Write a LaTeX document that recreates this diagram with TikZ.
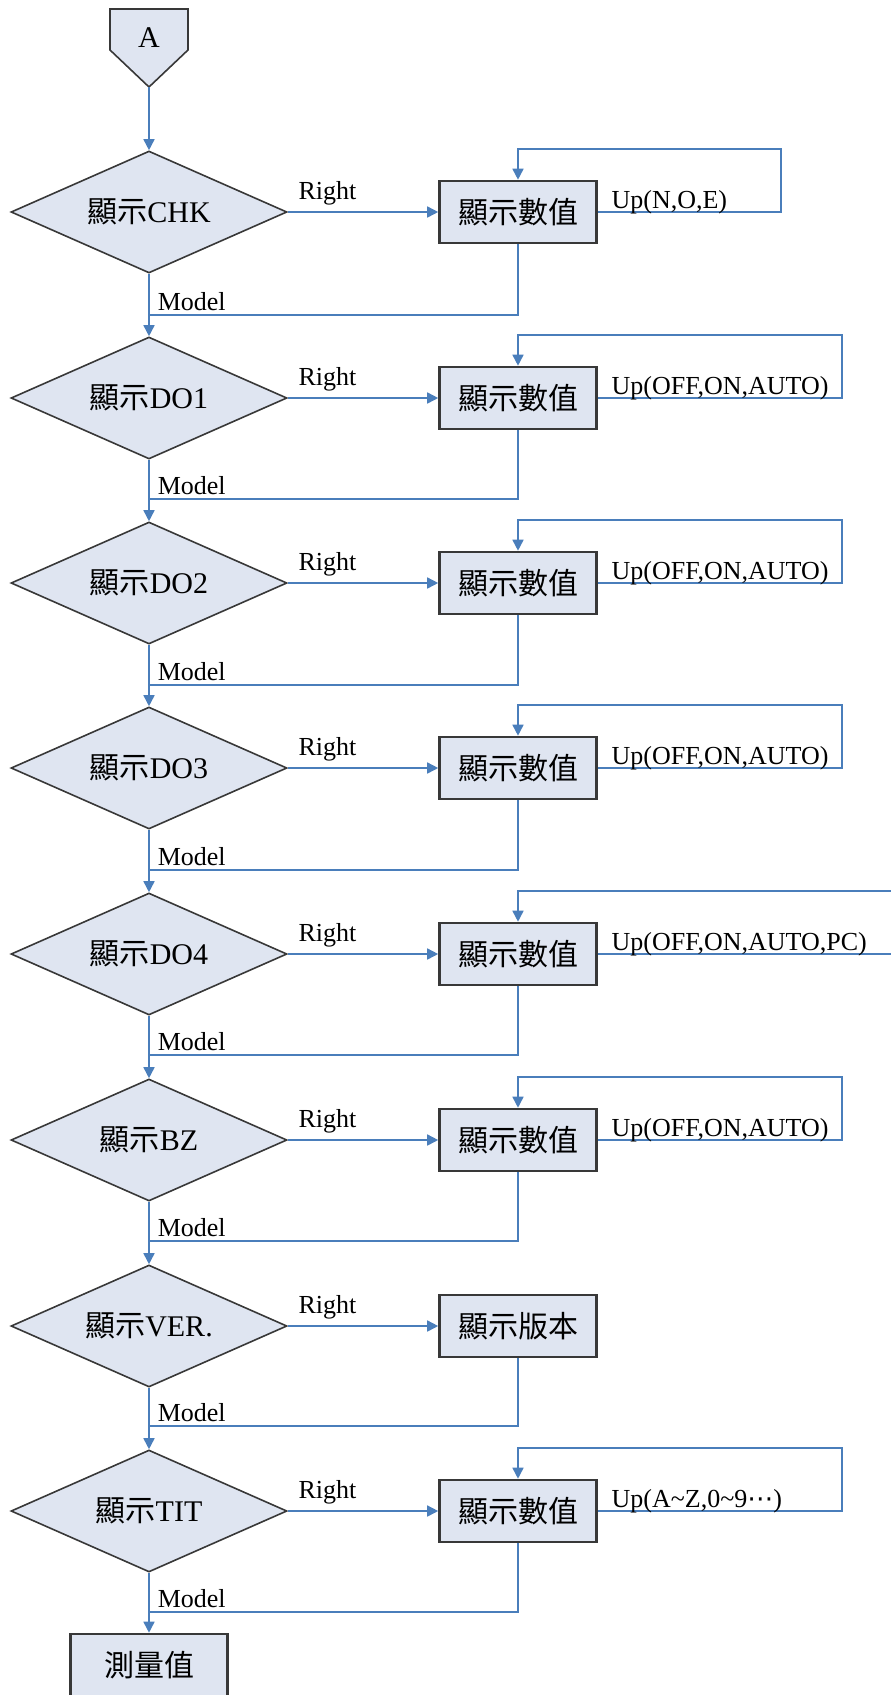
\documentclass[tikz,border=0pt]{standalone}
\usepackage{fontspec}
\setmainfont{Liberation Serif}
\newfontfamily\cjk{Noto Sans CJK TC}
\newfontfamily\symb{DejaVu Sans}
\usetikzlibrary{shapes.geometric,arrows.meta}
\definecolor{linkblue}{HTML}{4A7EBB}
\definecolor{shapefill}{HTML}{DFE5F1}
\definecolor{shapeline}{HTML}{383838}

\begin{document}
\begin{tikzpicture}[x=1pt, y=-1pt,
    >={Triangle[length=11pt, width=11pt]},
    decision/.style = {diamond, draw=shapeline, fill=shapefill, line width=1.6pt,
      minimum width=276pt, minimum height=122pt, aspect=2.26, inner sep=0pt,
      text=black, font=\fontsize{30}{34}\selectfont},
    valuebox/.style = {rectangle, draw=shapeline, fill=shapefill, line width=2.6pt,
      minimum width=157pt, minimum height=62pt, text=black,
      font=\fontsize{30}{34}\selectfont},
    wire/.style = {linkblue, line width=1.6pt},
    rlbl/.style = {pos=0, anchor=base west, inner sep=0pt, xshift=10pt, yshift=13pt,
      text=black, font=\fontsize{26}{30}\selectfont},
    ulbl/.style = {pos=0, anchor=base west, inner sep=0pt, xshift=13pt, yshift=4pt,
      text=black, font=\fontsize{26}{30}\selectfont},
    mlbl/.style = {anchor=base west, inner sep=0pt, xshift=8pt, yshift=5pt,
      text=black, font=\fontsize{26}{30}\selectfont}]
    \useasboundingbox (0,0) rectangle (891,1695);
    \clip (0,0) rectangle (891,1695);

    % start connector
    \draw[draw=shapeline, fill=shapefill, line width=1.6pt]
      (110,9) -- (188,9) -- (188,50) -- (149,87) -- (110,50) -- cycle;
    \node[font=\fontsize{30}{34}\selectfont] (A) at (149,38) {A};
    \coordinate (atip) at (149,87);

    % CHK
    \node[decision] (d1) at (149,212) {{\cjk 顯示}CHK};
    \node[valuebox] (b1) at (518,212) {\cjk 顯示數值};
    \coordinate (m1) at (149,315);
    \path[->, wire] (d1) edge node[rlbl] {Right} (b1);
    \draw[->, wire] (b1.east) -- node[ulbl] {Up(N,O,E)} ++(183,0) -- ++(0,-63) -| (b1.north);
    \draw[wire] (b1.south) |- (m1) node[mlbl] {Model};

    % DO1
    \node[decision] (d2) at (149,398) {{\cjk 顯示}DO1};
    \node[valuebox] (b2) at (518,398) {\cjk 顯示數值};
    \coordinate (m2) at (149,499);
    \path[->, wire] (d2) edge node[rlbl] {Right} (b2);
    \draw[->, wire] (b2.east) -- node[ulbl] {Up(OFF,ON,AUTO)} ++(244,0) -- ++(0,-63) -| (b2.north);
    \draw[wire] (b2.south) |- (m2) node[mlbl] {Model};

    % DO2
    \node[decision] (d3) at (149,583) {{\cjk 顯示}DO2};
    \node[valuebox] (b3) at (518,583) {\cjk 顯示數值};
    \coordinate (m3) at (149,685);
    \path[->, wire] (d3) edge node[rlbl] {Right} (b3);
    \draw[->, wire] (b3.east) -- node[ulbl] {Up(OFF,ON,AUTO)} ++(244,0) -- ++(0,-63) -| (b3.north);
    \draw[wire] (b3.south) |- (m3) node[mlbl] {Model};

    % DO3
    \node[decision] (d4) at (149,768) {{\cjk 顯示}DO3};
    \node[valuebox] (b4) at (518,768) {\cjk 顯示數值};
    \coordinate (m4) at (149,870);
    \path[->, wire] (d4) edge node[rlbl] {Right} (b4);
    \draw[->, wire] (b4.east) -- node[ulbl] {Up(OFF,ON,AUTO)} ++(244,0) -- ++(0,-63) -| (b4.north);
    \draw[wire] (b4.south) |- (m4) node[mlbl] {Model};

    % DO4
    \node[decision] (d5) at (149,954) {{\cjk 顯示}DO4};
    \node[valuebox] (b5) at (518,954) {\cjk 顯示數值};
    \coordinate (m5) at (149,1055);
    \path[->, wire] (d5) edge node[rlbl] {Right} (b5);
    \draw[->, wire] (b5.east) -- node[ulbl] {Up(OFF,ON,AUTO,PC)} ++(320,0) -- ++(0,-63) -| (b5.north);
    \draw[wire] (b5.south) |- (m5) node[mlbl] {Model};

    % BZ
    \node[decision] (d6) at (149,1140) {{\cjk 顯示}BZ};
    \node[valuebox] (b6) at (518,1140) {\cjk 顯示數值};
    \coordinate (m6) at (149,1241);
    \path[->, wire] (d6) edge node[rlbl] {Right} (b6);
    \draw[->, wire] (b6.east) -- node[ulbl] {Up(OFF,ON,AUTO)} ++(244,0) -- ++(0,-63) -| (b6.north);
    \draw[wire] (b6.south) |- (m6) node[mlbl] {Model};

    % VER.
    \node[decision] (d7) at (149,1326) {{\cjk 顯示}VER.};
    \node[valuebox] (b7) at (518,1326) {\cjk 顯示版本};
    \coordinate (m7) at (149,1426);
    \path[->, wire] (d7) edge node[rlbl] {Right} (b7);
    \draw[wire] (b7.south) |- (m7) node[mlbl] {Model};

    % TIT
    \node[decision] (d8) at (149,1511) {{\cjk 顯示}TIT};
    \node[valuebox] (b8) at (518,1511) {\cjk 顯示數值};
    \coordinate (m8) at (149,1612);
    \path[->, wire] (d8) edge node[rlbl] {Right} (b8);
    \draw[->, wire] (b8.east) -- node[ulbl] {Up(A\textasciitilde Z,0\textasciitilde 9{\symb ⋯})} ++(244,0) -- ++(0,-63) -| (b8.north);
    \draw[wire] (b8.south) |- (m8) node[mlbl] {Model};

    \node[valuebox] (meas) at (149,1665) {\cjk 測量值};

    % main line
    \path[->, wire] (atip) edge (d1.north)
      (d1) edge (d2) (d2) edge (d3) (d3) edge (d4) (d4) edge (d5)
      (d5) edge (d6) (d6) edge (d7) (d7) edge (d8) (d8) edge (meas);
  \end{tikzpicture}
\end{document}
